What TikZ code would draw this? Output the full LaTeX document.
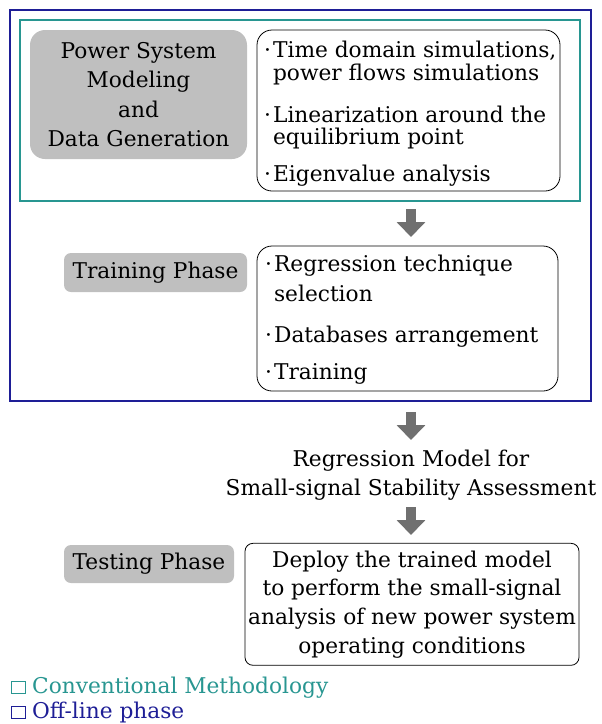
\documentclass[tikz,border=0pt]{standalone}
\usepackage{fontspec}
\setmainfont{DejaVu Serif}
\usetikzlibrary{arrows.meta}

\definecolor{offline}{RGB}{30,30,150}
\definecolor{conv}{RGB}{40,150,145}
\definecolor{phasegray}{RGB}{191,191,191}
\definecolor{arrowgray}{RGB}{112,112,112}

\newcommand{\dotitem}{\textperiodcentered\kern2pt}
\newcommand{\hangitem}{\phantom{\textperiodcentered}\kern2pt}

\begin{document}
\begin{tikzpicture}[x=1pt,y=-1pt]
        \tikzstyle{every node}+=[inner sep=0pt, font=\fontsize{21.7}{29.5}\selectfont]
        \tikzstyle{phasebox}=[fill=phasegray, rounded corners=7pt, align=center]
        \tikzstyle{listbox}=[draw=black, line width=0.8pt, rounded corners=15pt]
        \tikzstyle{bigarrow}=[arrowgray, line width=10pt, -{Triangle[width=28pt,length=15pt]}]
        \useasboundingbox (0,0) rectangle (602,724);
        \node [draw=offline, line width=1.3pt, minimum width=581pt, minimum height=391pt] (offl) at (300.5,205.5) {};
        \node [draw=conv, line width=1.3pt, minimum width=560pt, minimum height=181pt] (conv) at (300,110.5) {};
        \node [phasebox, rounded corners=15pt, minimum width=217pt, minimum height=129pt] (model) at (138.5,94.5) {Power System\\Modeling\\and\\Data Generation};
        \node [listbox, minimum width=303pt, minimum height=161pt] (sim) at (408.5,110.5) {};
        \node [anchor=base west, align=left] (simtxt) at (264,181) {\dotitem Time domain simulations,\\[-6pt]\hangitem power flows simulations\\[12pt]\dotitem Linearization around the\\[-7.5pt]\hangitem equilibrium point\\[7.5pt]\dotitem Eigenvalue analysis};
        \node [phasebox, minimum width=183pt, minimum height=39pt] (train) at (155.5,272.5) {Training Phase};
        \node [listbox, minimum width=301pt, minimum height=145pt] (fit) at (407.5,318.5) {};
        \node [anchor=base west, align=left] (fittxt) at (265,379) {\dotitem Regression technique\\\hangitem selection\\[11.5pt]\dotitem Databases arrangement\\[7.5pt]\dotitem Training};
        \node [anchor=base, align=center] (regr) at (411,495.5) {Regression Model for\\Small-signal Stability Assessment};
        \node [phasebox, minimum width=170pt, minimum height=38pt] (test) at (149,564) {Testing Phase};
        \node [draw=black, line width=0.8pt, rounded corners=8pt, minimum width=334pt, minimum height=122pt, align=center, font=\fontsize{21.7}{28.7}\selectfont] (deploy) at (412,604.3) {Deploy the trained model\\to perform the small-signal\\analysis of new power system\\operating conditions};
        \coordinate (a1s) at (411,209);
        \coordinate (a1e) at (411,237);
        \coordinate (a2s) at (411,412);
        \coordinate (a2e) at (411,440);
        \coordinate (a3s) at (411,507);
        \coordinate (a3e) at (411,535);
        \draw [bigarrow] (a1s) -- (a1e);
        \draw [bigarrow] (a2s) -- (a2e);
        \draw [bigarrow] (a3s) -- (a3e);
        \node [draw=conv, line width=0.8pt, minimum width=14pt, minimum height=12pt] (convkey) at (18,687) {};
        \node [anchor=base west, text=conv] (convlbl) at (32,693) {Conventional Methodology};
        \node [draw=offline, line width=0.8pt, minimum width=14pt, minimum height=12pt] (offlkey) at (18,712.5) {};
        \node [anchor=base west, text=offline] (offllbl) at (32,718.5) {Off-line phase};
    \end{tikzpicture}
\end{document}
